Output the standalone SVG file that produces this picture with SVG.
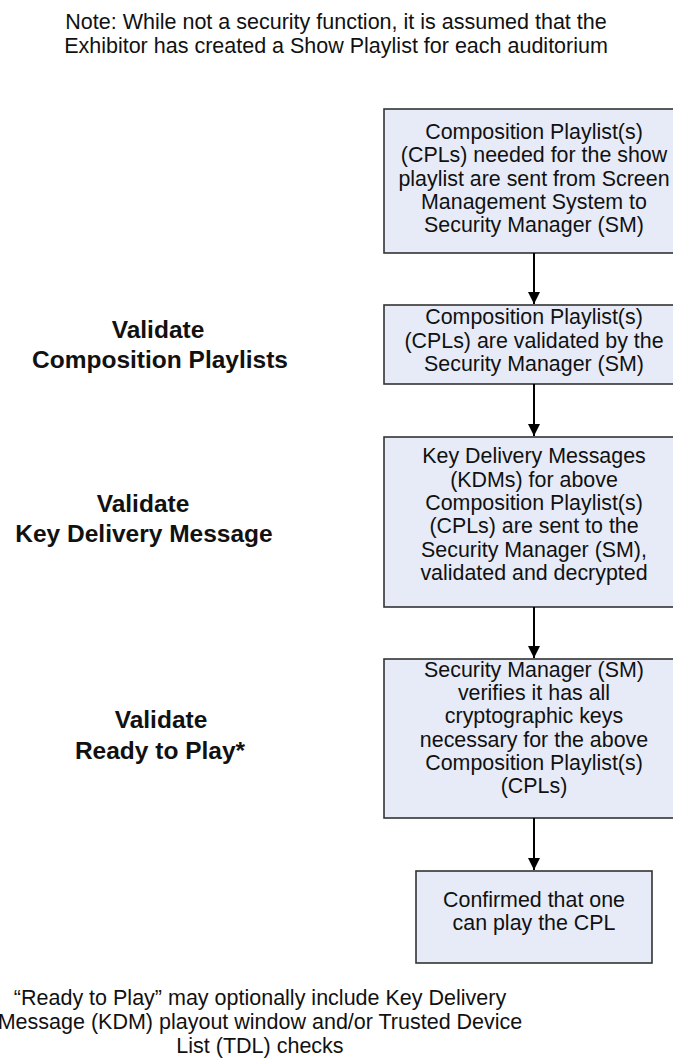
<svg xmlns="http://www.w3.org/2000/svg" width="673" height="1063" viewBox="0 0 673 1063">
  <defs>
    <style>
      .note { font-family: "Liberation Sans", Arial, sans-serif; font-size: 21.5px; fill: #111; text-anchor: middle; }
      .lbl { font-family: "Liberation Sans", Arial, sans-serif; font-size: 24.5px; font-weight: bold; fill: #111; text-anchor: middle; }
      .box { fill: #e6ebf7; stroke: #333; stroke-width: 1.6; }
      .bt { font-family: "Liberation Sans", Arial, sans-serif; font-size: 21.4px; fill: #111; text-anchor: middle; }
      .conn { stroke: #000; stroke-width: 2; fill: none; }
    </style>
    <marker id="ah" markerWidth="12" markerHeight="12" refX="12" refY="6" orient="auto" markerUnits="userSpaceOnUse">
      <path d="M0,0 L12,6 L0,12 Z" fill="#000"/>
    </marker>
  </defs>
  <rect width="673" height="1063" fill="#fff"/>

  <g id="note-top">
    <text class="note" x="336" y="29">Note: While not a security function, it is assumed that the</text>
    <text class="note" x="336" y="53">Exhibitor has created a Show Playlist for each auditorium</text>
  </g>

  <g id="label-cpl">
    <text class="lbl" x="158" y="338">Validate</text>
    <text class="lbl" x="160" y="368">Composition Playlists</text>
  </g>
  <g id="label-kdm">
    <text class="lbl" x="143" y="512">Validate</text>
    <text class="lbl" x="144" y="542">Key Delivery Message</text>
  </g>
  <g id="label-ready">
    <text class="lbl" x="161" y="728">Validate</text>
    <text class="lbl" x="160" y="759">Ready to Play*</text>
  </g>

  <g id="box1">
    <rect class="box" x="384" y="109" width="300" height="144"/>
    <text class="bt" x="534" y="139">Composition Playlist(s)</text>
    <text class="bt" x="534" y="162">(CPLs) needed for the show</text>
    <text class="bt" x="534" y="186">playlist are sent from Screen</text>
    <text class="bt" x="534" y="209">Management System to</text>
    <text class="bt" x="534" y="232">Security Manager (SM)</text>
  </g>
  <g id="box2">
    <rect class="box" x="384" y="305" width="300" height="79"/>
    <text class="bt" x="534" y="324">Composition Playlist(s)</text>
    <text class="bt" x="534" y="348">(CPLs) are validated by the</text>
    <text class="bt" x="534" y="371">Security Manager (SM)</text>
  </g>
  <g id="box3">
    <rect class="box" x="384" y="437" width="300" height="170"/>
    <text class="bt" x="534" y="463">Key Delivery Messages</text>
    <text class="bt" x="534" y="487">(KDMs) for above</text>
    <text class="bt" x="534" y="510">Composition Playlist(s)</text>
    <text class="bt" x="534" y="533">(CPLs) are sent to the</text>
    <text class="bt" x="534" y="557">Security Manager (SM),</text>
    <text class="bt" x="534" y="580">validated and decrypted</text>
  </g>
  <g id="box4">
    <rect class="box" x="384" y="659" width="300" height="159"/>
    <text class="bt" x="534" y="677">Security Manager (SM)</text>
    <text class="bt" x="534" y="700">verifies it has all</text>
    <text class="bt" x="534" y="723">cryptographic keys</text>
    <text class="bt" x="534" y="747">necessary for the above</text>
    <text class="bt" x="534" y="770">Composition Playlist(s)</text>
    <text class="bt" x="534" y="793">(CPLs)</text>
  </g>
  <g id="box5">
    <rect class="box" x="416" y="871" width="236" height="92"/>
    <text class="bt" x="534" y="907">Confirmed that one</text>
    <text class="bt" x="534" y="930">can play the CPL</text>
  </g>

  <g id="connectors">
    <line class="conn" x1="534" y1="253" x2="534" y2="304" marker-end="url(#ah)"/>
    <line class="conn" x1="534" y1="384" x2="534" y2="436" marker-end="url(#ah)"/>
    <line class="conn" x1="534" y1="607" x2="534" y2="658" marker-end="url(#ah)"/>
    <line class="conn" x1="534" y1="818" x2="534" y2="870" marker-end="url(#ah)"/>
  </g>

  <g id="note-bottom">
    <text class="note" x="260" y="1005">“Ready to Play” may optionally include Key Delivery</text>
    <text class="note" x="260" y="1029">Message (KDM) playout window and/or Trusted Device</text>
    <text class="note" x="260" y="1053">List (TDL) checks</text>
  </g>
</svg>
